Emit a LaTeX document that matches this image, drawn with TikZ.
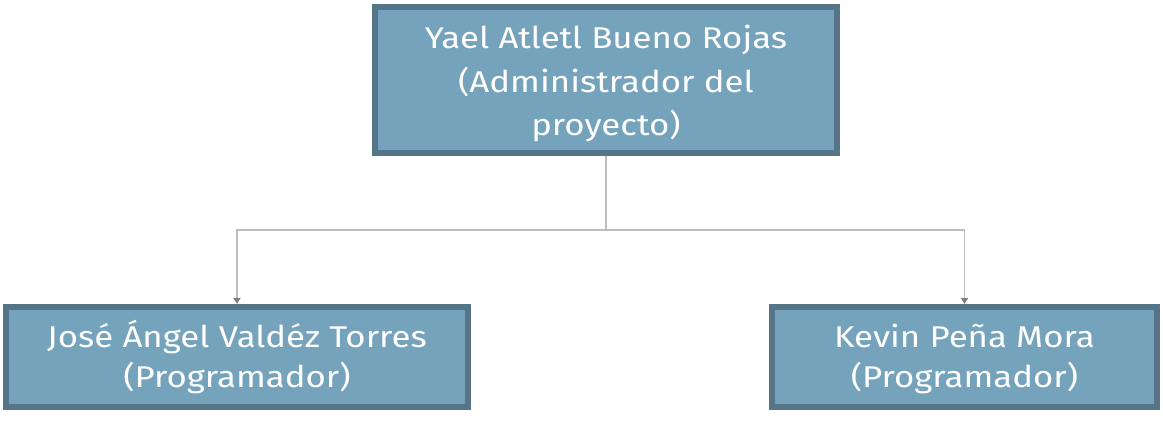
\documentclass[tikz,border=0pt]{standalone}
\usepackage{fontspec}
\setmainfont[FakeStretch=1.16]{Fira Sans}
\usetikzlibrary{arrows.meta}
\definecolor{boxfill}{HTML}{75A3BC}
\definecolor{boxline}{HTML}{577588}
\definecolor{connline}{HTML}{BDBDBD}
\definecolor{conntip}{HTML}{7F7F7F}
\newcommand{\lines}[4]{\raisebox{0pt}[#1][#2]{\fontsize{30}{#3}\selectfont
  \begin{tabular}[b]{@{}c@{}}#4\end{tabular}}}
\tikzset{
  person/.style={draw=boxline, fill=boxfill, line width=6pt, text=white,
    align=center, inner sep=0pt},
  conn/.style={draw=connline, line width=1.5pt,
    -{Triangle[length=6pt,width=7pt,color=conntip]}},
}
\begin{document}
\begin{tikzpicture}[x=1pt,y=-1pt]
\useasboundingbox (0,0) rectangle (1163,425);
\node[person, minimum width=462pt, minimum height=146pt] (top) at (606,80)
  {\lines{112pt}{0pt}{44}{Yael Atletl Bueno Rojas\\(Administrador del\\proyecto)}};
\node[person, minimum width=462pt, minimum height=100pt] (left) at (237,357)
  {\lines{60pt}{0pt}{40}{José Ángel Valdéz Torres\\(Programador)}};
\node[person, minimum width=385pt, minimum height=100pt] (right) at (964.5,357)
  {\lines{60pt}{0pt}{40}{Kevin Peña Mora\\(Programador)}};
\coordinate (bus) at (606,230);
\draw[conn] (top.south) -- (bus) -| (left.north);
\draw[conn] (bus) -| (right.north);
\end{tikzpicture}
\end{document}
